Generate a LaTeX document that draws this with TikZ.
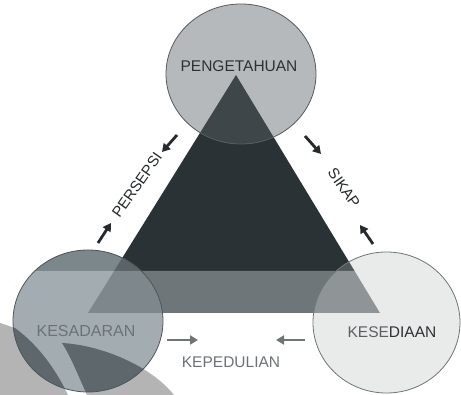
\documentclass[tikz,border=0pt]{standalone}
\usepackage{fontspec}
\newfontfamily\arial{Liberation Sans}
\usetikzlibrary{arrows.meta}
\definecolor{trid}{HTML}{2A3236}
\definecolor{band}{HTML}{6F7679}
\definecolor{topc}{HTML}{B5B9BB}
\definecolor{topd}{HTML}{3E4649}
\definecolor{leftc}{HTML}{A3ADB1}
\definecolor{lefttop}{HTML}{7C878B}
\definecolor{leftd}{HTML}{5A6468}
\definecolor{leftb}{HTML}{7E888C}
\definecolor{leftg}{HTML}{5E686C}
\definecolor{rightc}{HTML}{E9EBEB}
\definecolor{rightd}{HTML}{50585B}
\definecolor{rightb}{HTML}{8F9597}
\definecolor{scang}{HTML}{B4B4B4}
\definecolor{txtdark}{HTML}{2C3134}
\definecolor{txtgray}{HTML}{6B7376}
\definecolor{kese}{HTML}{5A5F62}
\definecolor{arrgray}{HTML}{6F7477}
\definecolor{arrdark}{HTML}{262A2C}
\tikzset{
  lbl/.style={font=\arial\fontsize{15.5}{18}\selectfont, inner sep=0pt},
  arrbase/.style={line width=2.8pt, -{Triangle[length=8pt,width=9pt]}, shorten <=0pt},
  arrd/.style={arrbase, draw=arrdark},
  arrg/.style={arrbase, draw=arrgray},
  outline/.style={line width=0.8pt}
}
\begin{document}
\begin{tikzpicture}[x=1pt,y=-1pt]
\useasboundingbox (0,0) rectangle (461,395);
\fill[white] (0,0) rectangle (461,395);
\def\tri{(236,75) -- (380,313) -- (88,313) -- cycle}
\def\up{(236,75) -- (354.59,271) -- (114.12,271) -- cycle}
\def\band{(114.12,271) -- (354.59,271) -- (380,313) -- (88,313) -- cycle}
\def\gA{(0,323) -- (15,328) .. controls (38,345) and (55,368) .. (68,395) -- (0,395) -- cycle}
\def\gB{(62,343) .. controls (100,345) and (150,365) .. (174,395) -- (87,395) .. controls (78,375) and (70,355) .. (62,343) -- cycle}
% scan shading
\fill[scang] \gA;
\fill[scang] \gB;
% triangle
\fill[trid] \up;
\fill[band] \band;
% centres
\coordinate (ct) at (241,74);
\coordinate (cl) at (88,321);
\coordinate (cr) at (386.5,322.5);
% top circle
\fill[topc] (ct) ellipse [x radius=75pt, y radius=70pt];
\begin{scope}
  \clip (ct) ellipse [x radius=75pt, y radius=70pt];
  \fill[topd] \up;
\end{scope}
\draw[outline, draw=txtdark!80] (ct) ellipse [x radius=75pt, y radius=70pt];
% left circle
\fill[leftc] (cl) ellipse [x radius=75pt, y radius=71pt];
\begin{scope}
  \clip (cl) ellipse [x radius=75pt, y radius=71pt];
  \fill[lefttop] (0,240) rectangle (180,271);
  \fill[leftd] \up;
  \fill[leftb] \band;
  \fill[leftg] \gA;
  \fill[leftg] \gB;
\end{scope}
\draw[outline, draw=leftd!85!black] (cl) ellipse [x radius=75pt, y radius=71pt];
% right circle
\fill[rightc] (cr) ellipse [x radius=73.5pt, y radius=70.5pt];
\begin{scope}
  \clip (cr) ellipse [x radius=73.5pt, y radius=70.5pt];
  \fill[rightd] \up;
  \fill[rightb] \band;
\end{scope}
\draw[outline, draw=arrgray] (cr) ellipse [x radius=73.5pt, y radius=70.5pt];
% labels
\node[lbl, text=txtdark] (peng) at (239,66) {PENGETAHUAN};
\node[lbl, text=txtgray, font=\arial\fontsize{16}{18}\selectfont] (kesa) at (86,331) {KESADARAN};
\node[lbl] (kese) at (392,332) {{\color{kese}KESE}{\color{txtdark}DIAAN}};
\node[lbl, text=txtgray] (kepe) at (231,362) {KEPEDULIAN};
\node[lbl, text=arrdark, font=\arial\fontsize{15}{18}\selectfont, rotate=55] (pers) at (137,185) {PERSEPSI};
\node[lbl, text=arrdark, font=\arial\fontsize{15}{18}\selectfont, rotate=-55] (sika) at (344,188) {SIKAP};
% arrows
\coordinate (p1a) at (177,135); \coordinate (p1b) at (162,152);
\coordinate (p2a) at (98,243);  \coordinate (p2b) at (111,223);
\coordinate (s1a) at (305,136); \coordinate (s1b) at (321,154);
\coordinate (s2a) at (373,244); \coordinate (s2b) at (360,225);
\coordinate (k1a) at (167,340); \coordinate (k1b) at (198,340);
\coordinate (k2a) at (305,340); \coordinate (k2b) at (276,340);
\draw[arrd] (p1a) -- (p1b);
\draw[arrd] (p2a) -- (p2b);
\draw[arrd] (s1a) -- (s1b);
\draw[arrd] (s2a) -- (s2b);
\draw[arrg] (k1a) -- (k1b);
\draw[arrg] (k2a) -- (k2b);
\end{tikzpicture}
\end{document}
